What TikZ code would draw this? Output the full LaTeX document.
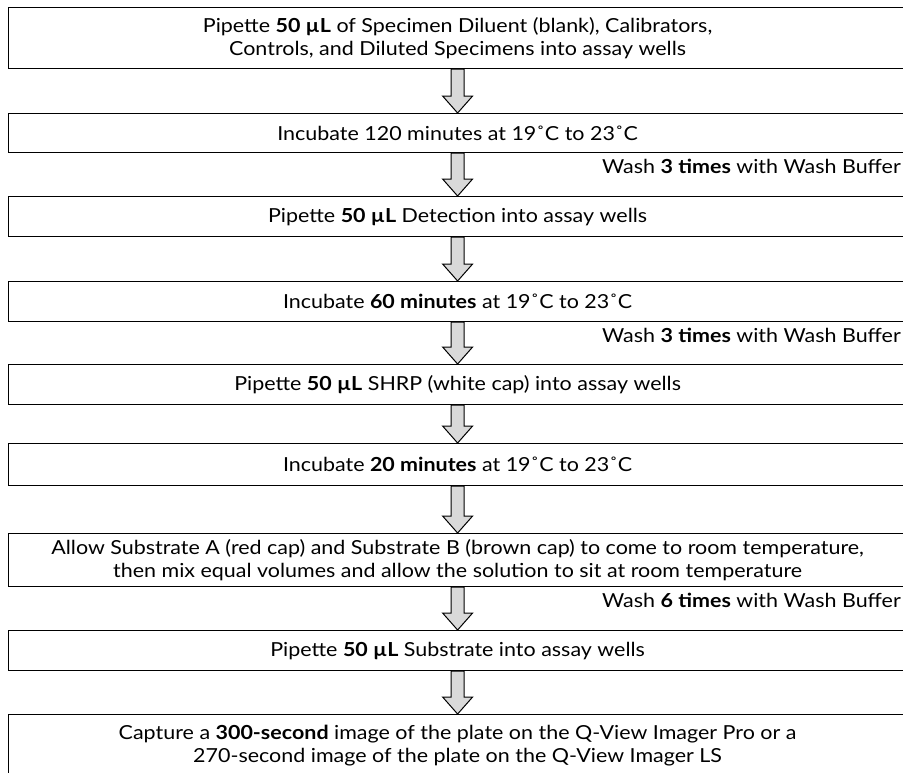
\documentclass[tikz,border=0pt]{standalone}
\usepackage{fontspec}
\setmainfont{Lato}[FakeStretch=1.11]
\usetikzlibrary{calc}
\tikzset{
  stepbox/.style={draw, line width=0.9pt, anchor=north west, inner sep=0pt,
    minimum width=673.5pt, align=center, font=\fontsize{14.5pt}{17.25pt}\selectfont},
  washnote/.style={anchor=east, inner sep=0pt, font=\fontsize{14.5pt}{17.25pt}\selectfont},
  blockarr/.style={draw, line width=0.75pt, fill=gray!30, line join=miter}
}
\begin{document}
\begin{tikzpicture}[x=0.75pt, y=-0.75pt]
\useasboundingbox (0,0) rectangle (903,772);
\clip (0,0) rectangle (903,772);
% steps of the protocol, top to bottom
\node[stepbox, minimum height=45.75pt] (s1) at (8,7) {Pipette \textbf{50 µL} of Specimen Diluent (blank), Calibrators,\\Controls, and Diluted Specimens into assay wells};
\node[stepbox, minimum height=29.25pt] (s2) at (8,113) {Incubate 120 minutes at 19˚C to 23˚C};
\node[stepbox, minimum height=30pt] (s3) at (8,196) {Pipette \textbf{50 µL} Detection into assay wells};
\node[stepbox, minimum height=30pt] (s4) at (8,281) {Incubate \textbf{60 minutes} at 19˚C to 23˚C};
\node[stepbox, minimum height=30pt] (s5) at (8,364) {Pipette \textbf{50 µL} SHRP (white cap) into assay wells};
\node[stepbox, minimum height=31.5pt] (s6) at (8,443) {Incubate \textbf{20 minutes} at 19˚C to 23˚C};
\node[stepbox, minimum height=39.75pt] (s7) at (8,533) {Allow Substrate A (red cap) and Substrate B (brown cap) to come to room temperature,\\then mix equal volumes and allow the solution to sit at room temperature};
\node[stepbox, minimum height=30pt] (s8) at (8,630) {Pipette \textbf{50 µL} Substrate into assay wells};
\node[stepbox, minimum height=47pt] (s9) at (8,714) {Capture a \textbf{300-second} image of the plate on the Q-View Imager Pro or a\\270-second image of the plate on the Q-View Imager LS};
% wash notes
\node[washnote] (w1) at (901,166) {Wash \textbf{3 times} with Wash Buffer};
\node[washnote] (w2) at (901,335) {Wash \textbf{3 times} with Wash Buffer};
\node[washnote] (w3) at (901,600) {Wash \textbf{6 times} with Wash Buffer};
% block arrows
\foreach \a/\b in {s1/s2, s2/s3, s3/s4, s4/s5, s5/s6, s6/s7, s7/s8, s8/s9} {
  \draw[blockarr] ([xshift=-4.9pt]\a.south) -- ([xshift=-4.9pt, yshift=12.75pt]\b.north)
    -- ([xshift=-11.25pt, yshift=12.75pt]\b.north) -- (\b.north)
    -- ([xshift=11.25pt, yshift=12.75pt]\b.north) -- ([xshift=4.9pt, yshift=12.75pt]\b.north)
    -- ([xshift=4.9pt]\a.south) -- cycle;
}
\end{tikzpicture}
\end{document}
